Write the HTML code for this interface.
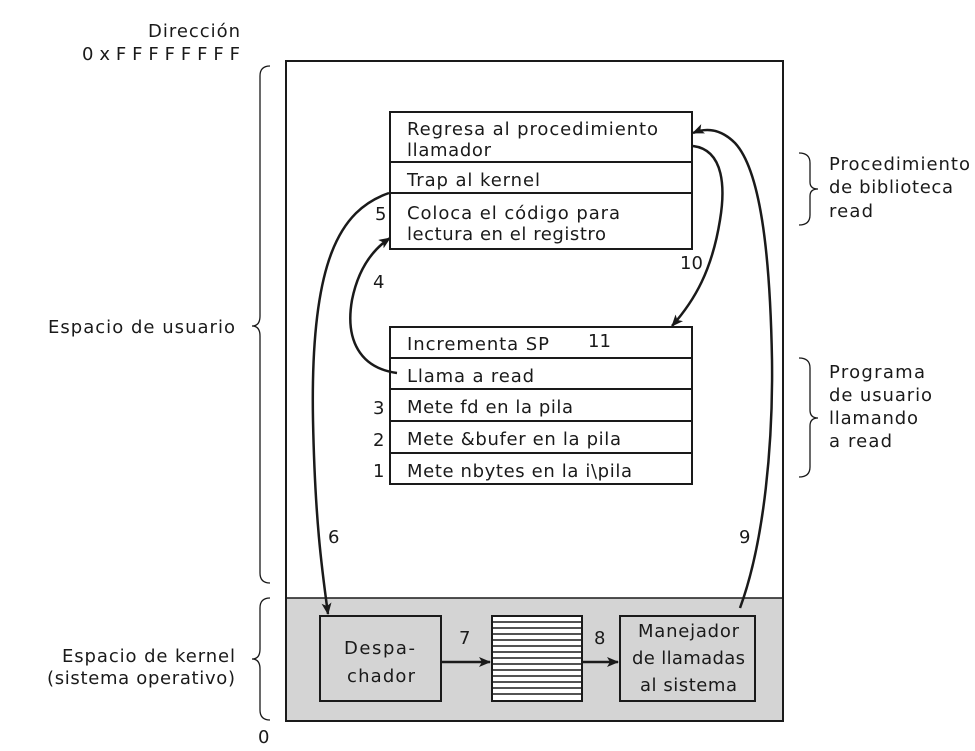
<!DOCTYPE html>
<html><head><meta charset="utf-8"><style>
html,body{margin:0;padding:0;background:#fff}
svg text{font-family:"DejaVu Sans","Liberation Sans",sans-serif;font-size:18px;fill:#1a1a1a}
</style></head><body>
<svg width="975" height="746" viewBox="0 0 975 746" xmlns="http://www.w3.org/2000/svg">
<defs><marker id="ah" markerWidth="12" markerHeight="10" refX="11" refY="5" orient="auto" markerUnits="userSpaceOnUse"><path d="M0,0 L12,5 L0,10 L3,5 Z" fill="#1a1a1a"/></marker></defs>
<g stroke="#1a1a1a" fill="none">
<rect x="286" y="61" width="497" height="660" stroke-width="2"/>
<rect x="287" y="598" width="495" height="122" fill="#d4d4d4" stroke="none"/>
<line x1="286" y1="598" x2="783" y2="598" stroke-width="1.5"/>
<rect x="390" y="112" width="302" height="137" stroke-width="2"/>
<line x1="390" y1="162" x2="692" y2="162" stroke-width="2"/>
<line x1="390" y1="193" x2="692" y2="193" stroke-width="2"/>
<rect x="390" y="327" width="302" height="157" stroke-width="2"/>
<line x1="390" y1="358" x2="692" y2="358" stroke-width="2"/>
<line x1="390" y1="389" x2="692" y2="389" stroke-width="2"/>
<line x1="390" y1="421" x2="692" y2="421" stroke-width="2"/>
<line x1="390" y1="453" x2="692" y2="453" stroke-width="2"/>
<rect x="320" y="616" width="121" height="85" stroke-width="2"/>
<rect x="620" y="616" width="135" height="85" stroke-width="2"/>
<rect x="492" y="616" width="90" height="85" fill="#fff" stroke-width="2"/>
<path d="M492 622H582M492 628H582M492 634H582M492 640H582M492 646H582M492 652H582M492 658H582M492 664H582M492 670H582M492 676H582M492 682H582M492 688H582M492 694H582" stroke-width="1.5"/>
<g stroke-width="2.5">
<path d="M441 662H490" marker-end="url(#ah)"/>
<path d="M582 662H618" marker-end="url(#ah)"/>
<path d="M389 193 C340 210,310 260,313 420 C315 520,322 570,328 614" marker-end="url(#ah)"/>
<path d="M397 373 C360 368,345 340,352 300 C358 270,372 250,390 238" marker-end="url(#ah)"/>
<path d="M693 146 C725 150,725 190,720 220 C712 270,695 300,672 326" marker-end="url(#ah)"/>
<path d="M740 608 C765 540,773 440,772 360 C770 250,760 170,735 143 C720 128,705 128,693 133" marker-end="url(#ah)"/>
</g>
<g stroke-width="1.3">
<path d="M270 66 Q260 66 260 76 V316 Q260 326 252 326 Q260 326 260 336 V573 Q260 583 270 583"/>
<path d="M270 598 Q260 598 260 608 V649 Q260 659 252 659 Q260 659 260 669 V710 Q260 720 270 720"/>
<path d="M799 153 Q810 153 810 163 V182 Q810 189 818 189 Q810 189 810 196 V215 Q810 225 799 225"/>
<path d="M799 358 Q810 358 810 368 V410 Q810 418 818 418 Q810 418 810 426 V467 Q810 477 799 477"/>
</g>
</g>
<text x="148" y="37" textLength="92" lengthAdjust="spacing">Dirección</text>
<text x="82" y="60" textLength="158" lengthAdjust="spacing">0xFFFFFFFF</text>
<text x="48" y="333" textLength="187" lengthAdjust="spacing">Espacio de usuario</text>
<text x="62" y="662" textLength="173" lengthAdjust="spacing">Espacio de kernel</text>
<text x="47" y="684" textLength="188" lengthAdjust="spacing">(sistema operativo)</text>
<text x="258" y="743">0</text>
<text x="829" y="170" textLength="141" lengthAdjust="spacing">Procedimiento</text>
<text x="829" y="193" textLength="124" lengthAdjust="spacing">de biblioteca</text>
<text x="829" y="217" textLength="44" lengthAdjust="spacing">read</text>
<text x="829" y="378" textLength="96" lengthAdjust="spacing">Programa</text>
<text x="829" y="401" textLength="103" lengthAdjust="spacing">de usuario</text>
<text x="829" y="424" textLength="89" lengthAdjust="spacing">llamando</text>
<text x="829" y="447" textLength="63" lengthAdjust="spacing">a read</text>
<text x="407" y="135" textLength="251" lengthAdjust="spacing">Regresa al procedimiento</text>
<text x="407" y="156" textLength="84" lengthAdjust="spacing">llamador</text>
<text x="407" y="186" textLength="133" lengthAdjust="spacing">Trap al kernel</text>
<text x="407" y="219" textLength="213" lengthAdjust="spacing">Coloca el código para</text>
<text x="407" y="240" textLength="199" lengthAdjust="spacing">lectura en el registro</text>
<text x="407" y="350" textLength="142" lengthAdjust="spacing">Incrementa SP</text>
<text x="588" y="347">11</text>
<text x="407" y="382" textLength="127" lengthAdjust="spacing">Llama a read</text>
<text x="407" y="413" textLength="166" lengthAdjust="spacing">Mete fd en la pila</text>
<text x="407" y="445" textLength="214" lengthAdjust="spacing">Mete &amp;bufer en la pila</text>
<text x="407" y="477" textLength="225" lengthAdjust="spacing">Mete nbytes en la i\pila</text>
<text x="375" y="220">5</text>
<text x="373" y="288">4</text>
<text x="373" y="414">3</text>
<text x="373" y="446">2</text>
<text x="373" y="477">1</text>
<text x="680" y="269">10</text>
<text x="328" y="543">6</text>
<text x="739" y="543">9</text>
<text x="459" y="644">7</text>
<text x="594" y="644">8</text>
<text x="344" y="654" textLength="71" lengthAdjust="spacing">Despa-</text>
<text x="347" y="682" textLength="68" lengthAdjust="spacing">chador</text>
<text x="638" y="637" textLength="101" lengthAdjust="spacing">Manejador</text>
<text x="632" y="664" textLength="113" lengthAdjust="spacing">de llamadas</text>
<text x="640" y="691" textLength="97" lengthAdjust="spacing">al sistema</text>
</svg>
</body></html>
